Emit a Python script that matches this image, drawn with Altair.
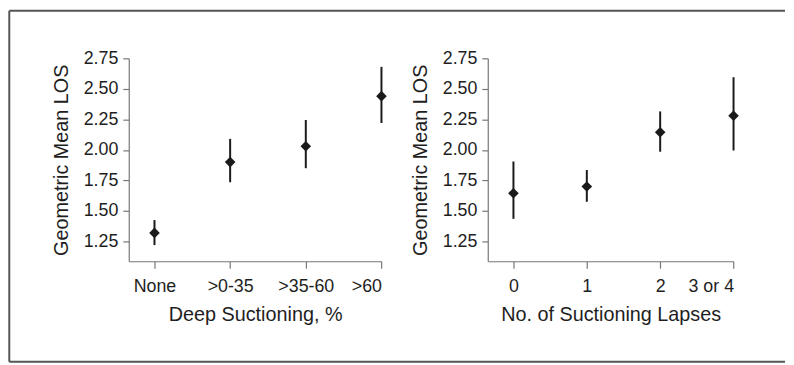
import json
import altair as alt
import pandas as pd

# Left panel: Deep suctioning
left_labels = ["None", ">0-35", ">35-60", ">60"]
left_mean = [1.32, 1.90, 2.03, 2.44]
left_lo = [1.22, 1.735, 1.85, 2.22]
left_hi = [1.425, 2.09, 2.245, 2.68]

# Right panel: number of suctioning lapses
right_labels = ["0", "1", "2", "3 or 4"]
right_mean = [1.645, 1.70, 2.145, 2.28]
right_lo = [1.435, 1.575, 1.985, 1.995]
right_hi = [1.905, 1.835, 2.315, 2.595]

y_ticks = [1.25, 1.50, 1.75, 2.00, 2.25, 2.50, 2.75]

FONT = "Liberation Sans, Arial"
TXT = "#1e1e1e"
AX = "#777777"
INK = "#1a1a1a"


def make_df(labels, mean, lo, hi):
    return pd.DataFrame({
        "idx": list(range(len(labels))),
        "label": labels,
        "mean": mean,
        "lo": lo,
        "hi": hi,
    })


def panel(df, labels, xtitle, width, xmin):
    expr = json.dumps(labels) + "[datum.value]"
    x = alt.X(
        "idx:Q",
        scale=alt.Scale(domain=[xmin, 3], nice=False, zero=False),
        axis=alt.Axis(
            values=list(range(len(labels))),
            tickCount=len(labels),
            labelExpr=expr,
            title=xtitle,
            grid=False,
            tickSize=7,
            labelPadding=10,
            titlePadding=9,
            labelOverlap=False,
        ),
    )
    y = alt.Y(
        "mean:Q",
        scale=alt.Scale(domain=[1.088, 2.75], nice=False, zero=False),
        axis=alt.Axis(
            values=y_ticks,
            tickCount=len(y_ticks),
            format=".2f",
            title="Geometric Mean LOS",
            grid=False,
            tickSize=6,
            labelPadding=5,
            titlePadding=12,
            labelOverlap=False,
        ),
    )
    base = alt.Chart(df)
    bars = base.mark_rule(color=INK, strokeWidth=2).encode(x=x, y="lo:Q", y2="hi:Q")
    pts = base.mark_point(shape="diamond", filled=True, size=115, color=INK, opacity=1).encode(x=x, y=y)
    return alt.layer(bars, pts).properties(width=width, height=205)


left = panel(make_df(left_labels, left_mean, left_lo, left_hi), left_labels,
             "Deep Suctioning, %", 255.3, -0.34)
right = panel(make_df(right_labels, right_mean, right_lo, right_hi), right_labels,
              "No. of Suctioning Lapses", 248.3, -0.35)

# outer frame drawn in the left panel
frame_df = pd.DataFrame({"k": [0]})
fb = alt.Chart(frame_df).mark_rule(color="#555555", strokeWidth=2)
frame = alt.layer(
    fb.encode(x=alt.value(-120.7), x2=alt.value(663), y=alt.value(-48)),
    fb.encode(x=alt.value(-120.7), x2=alt.value(663), y=alt.value(306.5)),
    fb.encode(x=alt.value(-120.7), y=alt.value(-48), y2=alt.value(306.5)),
)

left_full = alt.layer(frame, left).properties(width=255.3, height=205)

chart = alt.hconcat(left_full, right, spacing=106.7, bounds="flush").properties(
    padding=0
).configure_view(stroke=None).configure_axis(
    labelFont=FONT,
    titleFont=FONT,
    labelFontSize=18,
    titleFontSize=20,
    titleFontWeight="normal",
    labelColor=TXT,
    titleColor=TXT,
    domainColor=AX,
    tickColor=AX,
    domainWidth=1.2,
    tickWidth=1.2,
)

chart.save("out.html", embed_options={"renderer": "svg", "actions": False})
